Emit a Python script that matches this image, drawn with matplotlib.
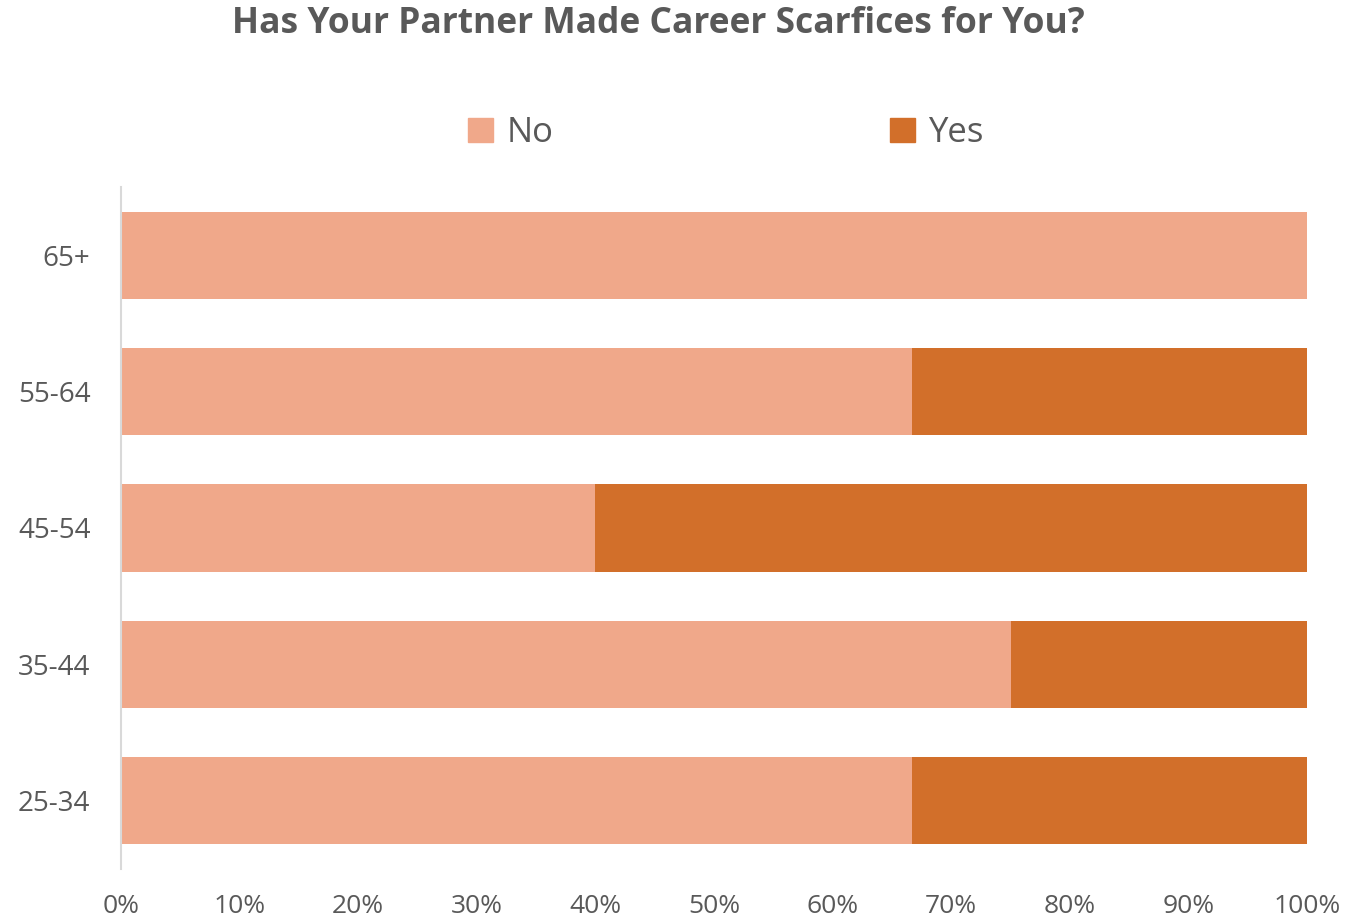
import numpy as np
from matplotlib import pyplot as plt
from matplotlib.patches import Patch

plt.rcParams['font.family'] = ['Open Sans', 'DejaVu Sans']

groups = ['25-34', '35-44', '45-54', '55-64', '65+']
no_share = [66.7, 75.0, 40.0, 66.7, 100.0]
yes_share = [33.3, 25.0, 60.0, 33.3, 0.0]
ticks = [0, 10, 20, 30, 40, 50, 60, 70, 80, 90, 100]

no_color = '#F0A88A'
yes_color = '#D26F2A'
text_color = '#595959'

fig = plt.figure(figsize=(13.57, 9.21), dpi=100)
ax = fig.add_axes([121 / 1357, 1 - 869 / 921, 1186 / 1357, 682 / 921])

y = np.arange(len(groups))
ax.barh(y, no_share, height=0.64, color=no_color, label='No')
ax.barh(y, yes_share, left=no_share, height=0.64, color=yes_color, label='Yes')

ax.set_xlim(0, 100)
ax.set_ylim(-0.5, len(groups) - 0.5)
ax.set_xticks(ticks)
ax.set_xticklabels([f'{t}%' for t in ticks], fontsize=19, color=text_color)
ax.set_yticks(y)
ax.set_yticklabels(groups, fontsize=20, color=text_color)
ax.tick_params(length=0)
ax.tick_params(axis='x', pad=18)
ax.tick_params(axis='y', pad=22)

for s in ['top', 'right', 'bottom']:
    ax.spines[s].set_visible(False)
ax.spines['left'].set_color('#D9D9D9')
ax.spines['left'].set_linewidth(1.5)

fig.text(658 / 1357, 1 - 24 / 921, 'Has Your Partner Made Career Scarfices for You?',
         ha='center', va='center', fontsize=25.5, fontweight='bold', color=text_color)

handles = [Patch(color=no_color), Patch(color=yes_color)]
fig.legend(handles, ['No', 'Yes'], loc='center', bbox_to_anchor=(726 / 1357, 1 - 133 / 921),
           ncol=2, frameon=False, fontsize=25, labelcolor=text_color,
           handlelength=0.7, handleheight=0.7, handletextpad=0.4, columnspacing=9.7)

fig.savefig('out.png', dpi=100)
